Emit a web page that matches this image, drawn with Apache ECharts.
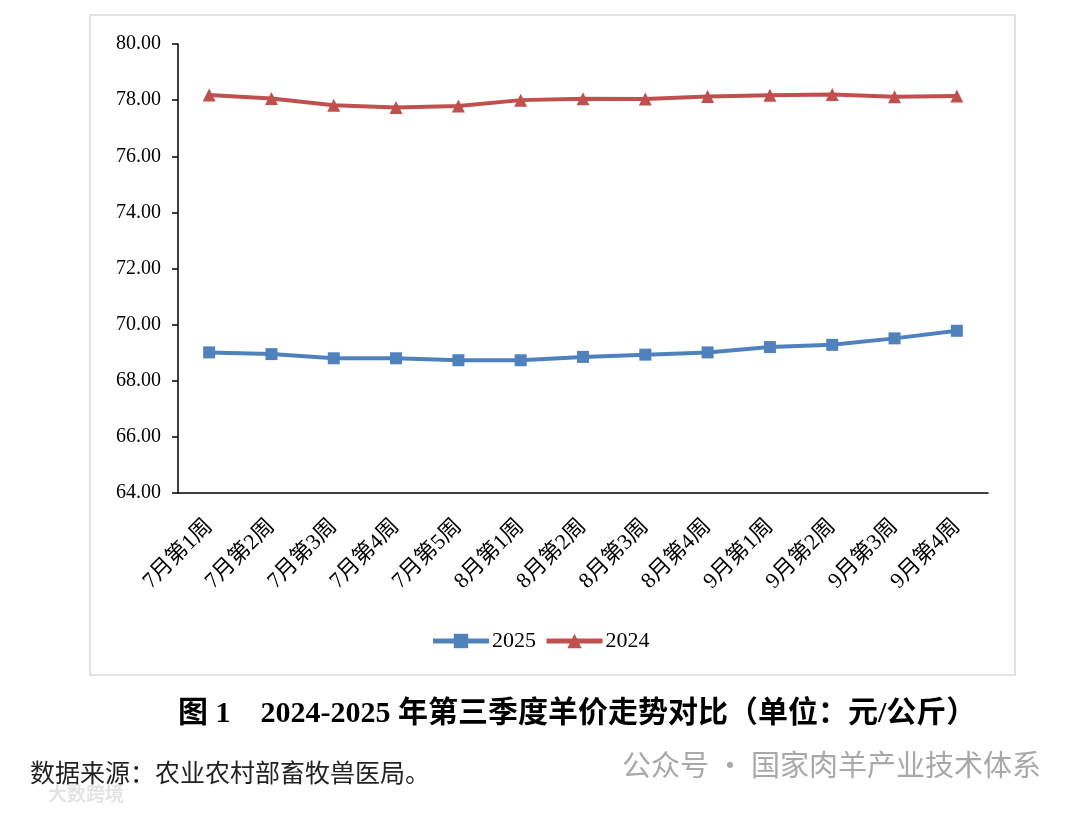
<!DOCTYPE html>
<html><head><meta charset="utf-8">
<script src="https://cdn.jsdelivr.net/npm/echarts@6/dist/echarts.min.js"></script>
<style>html,body{margin:0;padding:0;background:#fff}#c{width:1080px;height:813px}</style>
</head><body><div id="c"></div>
<script>
var categories = ['7月第1周','7月第2周','7月第3周','7月第4周','7月第5周','8月第1周','8月第2周','8月第3周','8月第4周','9月第1周','9月第2周','9月第3周','9月第4周'];
var values2025 = [69.01,68.95,68.80,68.80,68.73,68.73,68.85,68.93,69.01,69.20,69.28,69.51,69.78];
var values2024 = [78.18,78.06,77.82,77.74,77.79,78.00,78.05,78.04,78.13,78.17,78.20,78.12,78.15];
var yTicks = {min:64, max:80, interval:2};
var caption = '图 1　2024-2025 年第三季度羊价走势对比（单位：元/公斤）';
var source = '数据来源：农业农村部畜牧兽医局。';
var watermark = '公众号 · 国家肉羊产业技术体系';

var serif = '"Liberation Serif","Times New Roman","Noto Sans CJK SC",serif';
var chart = echarts.init(document.getElementById('c'));
chart.setOption({
  backgroundColor:'#fff',
  animation:false,
  grid:{left:178,right:92,top:44,bottom:320,containLabel:false},
  legend:{
    data:['2025','2024'],
    left:'center', top:625, itemWidth:56, itemHeight:18, itemGap:8,
    lineStyle:{width:5},
    textStyle:{fontFamily:serif,fontSize:22,color:'#000',padding:[0,0,0,-2]}
  },
  xAxis:{
    type:'category', data:categories, boundaryGap:true,
    axisLine:{lineStyle:{color:'#000',width:1.5}},
    axisTick:{inside:true,length:8,lineStyle:{color:'#000',width:1.5},alignWithLabel:false},
    axisLabel:{rotate:45,fontFamily:serif,fontSize:22,color:'#000',margin:30,interval:0}
  },
  yAxis:{
    type:'value', min:yTicks.min, max:yTicks.max, interval:yTicks.interval,
    splitLine:{show:false},
    axisLine:{show:true,lineStyle:{color:'#000',width:1.5}},
    axisTick:{show:true,length:6,lineStyle:{color:'#000',width:1.5}},
    axisLabel:{formatter:function(v){return v.toFixed(2);},fontFamily:serif,fontSize:20,color:'#000',margin:17}
  },
  series:[
    {name:'2025',type:'line',data:values2025,symbol:'rect',symbolSize:12,
     lineStyle:{color:'#4f81bd',width:4},itemStyle:{color:'#4f81bd'}},
    {name:'2024',type:'line',data:values2024,symbol:'triangle',symbolSize:13,
     lineStyle:{color:'#c0504d',width:4},itemStyle:{color:'#c0504d'}}
  ],
  graphic:[
    {type:'rect',shape:{x:90,y:15,width:925,height:660},style:{fill:'none',stroke:'#d9d9d9',lineWidth:1.5},z:-1},
    {type:'text',left:178,top:699,style:{text:caption,font:'bold 30px "Liberation Serif","Noto Sans CJK SC",serif',fill:'#000'}},
    {type:'text',left:30,top:760,style:{text:source,font:'25px "Noto Sans CJK SC",serif',fill:'#222'}},
    {type:'text',left:622,top:750,style:{text:watermark,font:'29px "Noto Sans CJK SC",sans-serif',fill:'#a8a8a8'}},
    {type:'text',left:48,top:784,style:{text:'大数跨境',font:'bold 19px "Noto Sans CJK SC",sans-serif',fill:'#e4e4e4'}}
  ]
});
</script></body></html>
